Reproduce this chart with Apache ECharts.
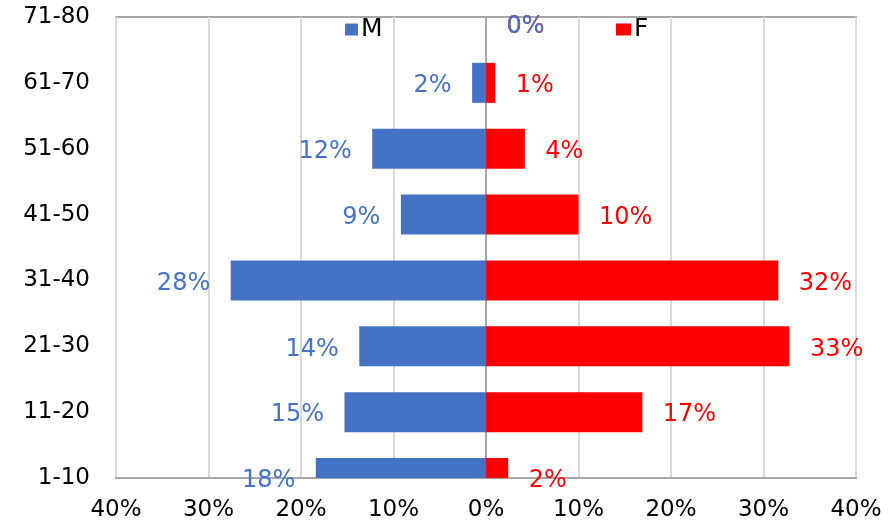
<!DOCTYPE html>
<html>
<head>
<meta charset="utf-8">
<script src="https://cdn.jsdelivr.net/npm/echarts@6/dist/echarts.min.js"></script>
<style>
  html, body { margin: 0; padding: 0; background: #fff; }
  #chart { width: 889px; height: 522px; }
</style>
</head>
<body>
<div id="chart"></div>
<script>
// Age groups, bottom to top
const ageGroups = ['1-10', '11-20', '21-30', '31-40', '41-50', '51-60', '61-70', '71-80'];
// Share of each age group, in percent
const maleShare = [18.4, 15.3, 13.7, 27.6, 9.2, 12.3, 1.5, 0];
const femaleShare = [2.4, 16.9, 32.8, 31.6, 10.0, 4.2, 1.0, 0];
// Percentage axis ticks
const axisTicks = [-40, -30, -20, -10, 0, 10, 20, 30, 40];

const BLUE = '#4472C4';
const RED = '#FF0000';
const FONT = 'DejaVu Sans';
const BAR_THICKNESS = 40;

const pct = v => Math.round(Math.abs(v)) + '%';

// Horizontal bars from 0 to the value, clipped to the plot rectangle
function renderBar(params, api) {
  const cat = api.value(0);
  const val = api.value(1);
  const p0 = api.coord([0, cat]);
  const p1 = api.coord([val, cat]);
  const rect = {
    x: Math.min(p0[0], p1[0]),
    y: p0[1] - BAR_THICKNESS / 2,
    width: Math.abs(p1[0] - p0[0]),
    height: BAR_THICKNESS
  };
  const cs = params.coordSys;
  const shape = echarts.graphic.clipRectByRect(rect, { x: cs.x, y: cs.y, width: cs.width, height: cs.height });
  if (!shape) return null;
  return { type: 'rect', shape: shape, style: api.style() };
}

const barData = (values, sign) => values.map((v, i) => [i, sign * v]);

// Value labels sit just past each bar's end; the top row is nudged inside the plot.
function labelPoints(values, sign) {
  return values.map((v, i) => {
    const x = sign * v;
    const top = i === ageGroups.length - 1;
    return {
      value: [x, ageGroups[i]],
      label: {
        position: x < 0 ? 'left' : 'right',
        offset: [0, top ? 10 : 3]
      }
    };
  });
}

const chart = echarts.init(document.getElementById('chart'), null, { renderer: 'canvas' });

chart.setOption({
  animation: false,
  backgroundColor: '#fff',
  textStyle: { fontFamily: FONT },
  grid: {
    left: 116, right: 33, top: 17, bottom: 43,
    show: true, borderColor: '#A6A6A6', borderWidth: 2
  },
  legend: [
    {
      data: ['M'], left: 340, top: 12, itemWidth: 13, itemHeight: 12, itemGap: 0,
      icon: 'rect', textStyle: { fontSize: 25, color: '#000', fontFamily: FONT, padding: [0, 0, 0, -2] }
    },
    {
      data: ['F'], left: 611, top: 12, itemWidth: 15, itemHeight: 12, itemGap: 0,
      icon: 'rect', textStyle: { fontSize: 25, color: '#000', fontFamily: FONT, padding: [0, 0, 0, -2] }
    }
  ],
  xAxis: {
    type: 'value',
    min: axisTicks[0],
    max: axisTicks[axisTicks.length - 1],
    interval: 10,
    axisLine: { show: true, onZero: false, lineStyle: { color: '#A6A6A6', width: 2 } },
    axisTick: { show: false },
    splitLine: { show: true, lineStyle: { color: '#D9D9D9', width: 2 } },
    axisLabel: {
      margin: 21, fontSize: 23, color: '#000', fontFamily: FONT,
      formatter: v => Math.abs(v) + '%'
    }
  },
  yAxis: {
    type: 'category',
    data: ageGroups,
    boundaryGap: false,
    axisLine: { show: true, lineStyle: { color: '#A6A6A6', width: 2 } },
    axisTick: { show: false },
    splitLine: { show: false },
    axisLabel: { margin: 26, fontSize: 23, color: '#000', fontFamily: FONT }
  },
  series: [
    {
      name: 'F', type: 'custom', data: barData(femaleShare, 1),
      encode: { x: 1, y: 0 }, renderItem: renderBar, clip: false,
      itemStyle: { color: RED }
    },
    {
      name: 'M', type: 'custom', data: barData(maleShare, -1),
      encode: { x: 1, y: 0 }, renderItem: renderBar, clip: false,
      itemStyle: { color: BLUE }
    },
    {
      name: 'F-labels', type: 'scatter', data: labelPoints(femaleShare, 1),
      symbol: 'circle', symbolSize: 1, clip: false, silent: true, z: 5,
      itemStyle: { color: 'rgba(0,0,0,0)', opacity: 1 },
      label: {
        show: true, distance: 20, fontSize: 24, color: RED, fontFamily: FONT, opacity: 1,
        formatter: p => pct(p.value[0])
      }
    },
    {
      name: 'M-labels', type: 'scatter', data: labelPoints(maleShare, -1),
      symbol: 'circle', symbolSize: 1, clip: false, silent: true, z: 6,
      itemStyle: { color: 'rgba(0,0,0,0)', opacity: 1 },
      label: {
        show: true, distance: 20, fontSize: 24, color: BLUE, fontFamily: FONT, opacity: 1,
        formatter: p => pct(p.value[0])
      }
    }
  ]
});
</script>
</body>
</html>
